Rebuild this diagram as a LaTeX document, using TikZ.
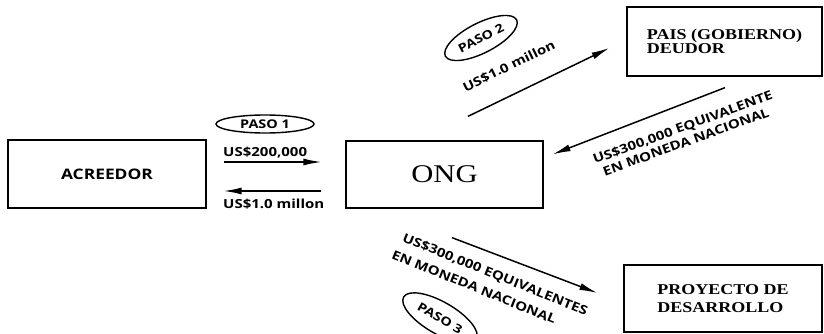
\documentclass[tikz,border=0pt]{standalone}
\usepackage{fontspec}
\setmainfont{Liberation Serif}
\newfontfamily\boxserif[FakeStretch=1.2]{Liberation Serif}
\newfontfamily\labsans[FakeStretch=1.2]{Open Sans}
\usetikzlibrary{arrows.meta,shapes.geometric}
\begin{document}
\begin{tikzpicture}[x=1pt,y=-1pt,
  box/.style={draw,line width=1.3pt,inner sep=0pt},
  ell/.style={draw,ellipse,line width=1.4pt,inner sep=0pt,font=\labsans\bfseries\fontsize{12}{14}\selectfont},
  lab/.style={inner sep=0pt,font=\labsans\bfseries\fontsize{12.5}{14}\selectfont},
  arr/.style={line width=1.5pt,-{Latex[length=18pt,width=7pt]}}]
\useasboundingbox (0,0) rectangle (824,334);
\fill[white] (0,0) rectangle (824,334);
% boxes
\node[box,minimum width=198pt,minimum height=68pt,font=\labsans\bfseries\fontsize{14.5}{16}\selectfont] (acreedor) at (107,174) {ACREEDOR};
\node[box,minimum width=197pt,minimum height=67pt,font=\boxserif\fontsize{25.5}{28}\selectfont] (ong) at (444.5,174.5) {ONG};
\node[box,minimum width=195pt,minimum height=69pt,align=left,font=\boxserif\bfseries\fontsize{15}{14}\selectfont] (pais) at (724.5,41.5) {PAIS (GOBIERNO)\\DEUDOR};
\node[box,minimum width=198pt,minimum height=67pt,align=left,font=\boxserif\bfseries\fontsize{15}{17.5}\selectfont] (proyecto) at (723,298.5) {PROYECTO DE\\DESARROLLO};
% step ellipses
\node[ell,minimum width=98pt,minimum height=18pt] (paso1) at (265,124) {PASO 1};
\node[ell,minimum width=80pt,minimum height=30pt,rotate=27] (paso2) at (481,38) {PASO 2};
\node[ell,minimum width=84pt,minimum height=32pt,rotate=-30] (paso3) at (440,318) {PASO 3};
% labels
\node[lab,anchor=base west] (l200) at (223,157) {US\$200,000};
\node[lab,anchor=base west] (l1m) at (223,208) {US\$1.0 millon};
\node[lab,rotate=26] (l1mb) at (509,66) {US\$1.0 millon};
\node[lab,rotate=20] (l300a) at (683,128) {US\$300,000 EQUIVALENTE};
\node[lab,rotate=20] (l300b) at (686,142) {EN MONEDA NACIONAL};
\node[lab,rotate=-22] (l300c) at (495,275) {US\$300,000 EQUIVALENTES};
\node[lab,rotate=-22] (l300d) at (474,287) {EN MONEDA NACIONAL};
% arrows
\draw[arr] ([shift={(17,-12)}]acreedor.east) -- ([shift={(-24,-12.5)}]ong.west);
\draw[arr] ([shift={(-24,16.5)}]ong.west) -- ([shift={(17,17)}]acreedor.east);
\draw[arr] ([shift={(23.5,-24)}]ong.north) -- ([shift={(-17,6.5)}]pais.west);
\draw[arr] ([shift={(0.5,11)}]pais.south) -- ([shift={(9,14)}]ong.north east);
\draw[arr] ([shift={(7.5,29)}]ong.south) -- ([shift={(-26,-5.5)}]proyecto.west);
\end{tikzpicture}
\end{document}
